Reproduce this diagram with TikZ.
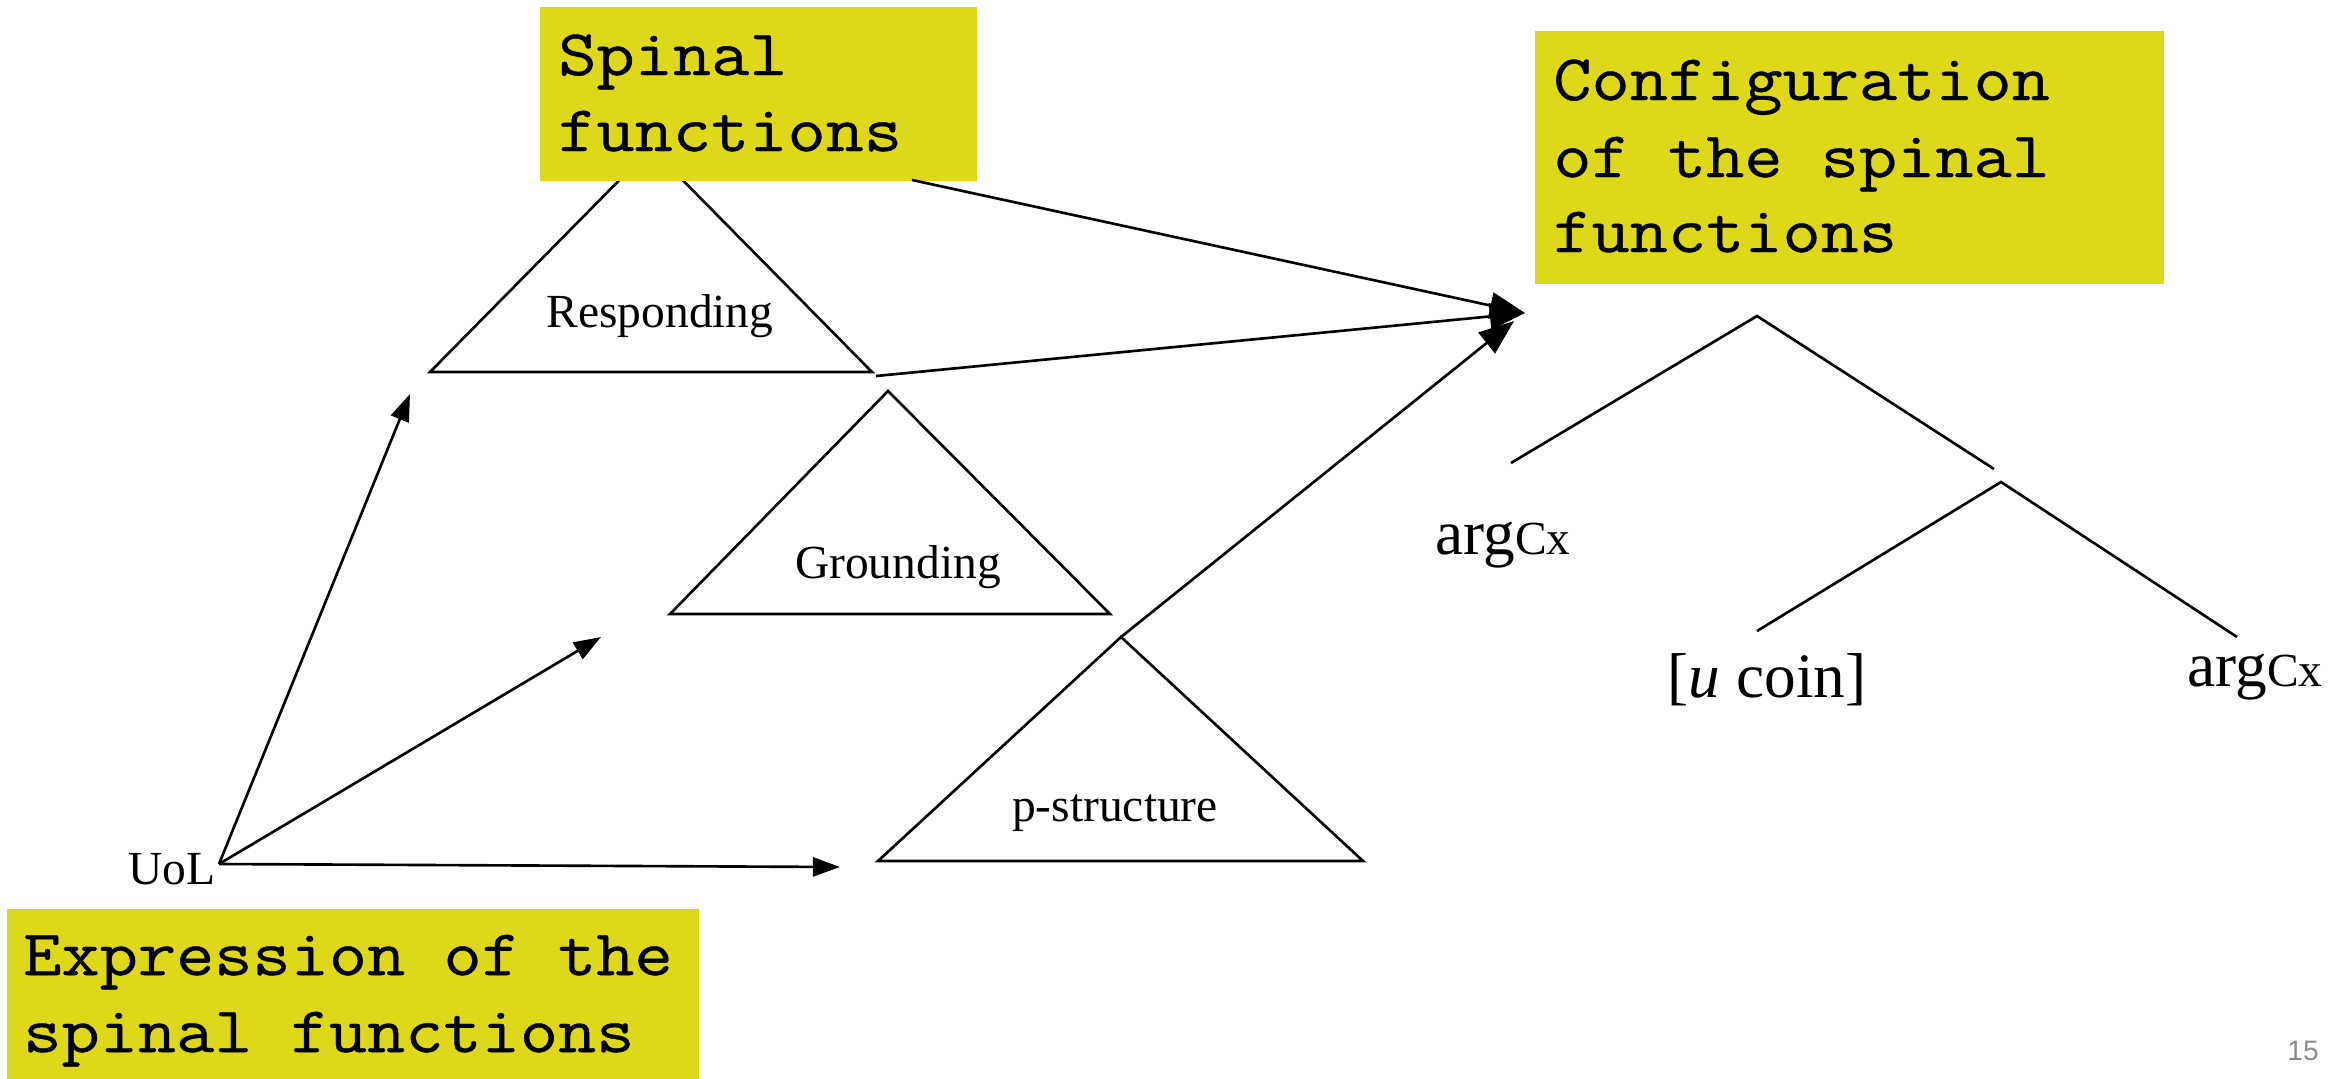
\documentclass[tikz,border=0pt]{standalone}
\usepackage{fontspec}
\setmainfont{Liberation Serif}
\setmonofont[FakeStretch=1.14,FakeBold=0.7]{Latin Modern Mono}
\newfontfamily\pgnumfont{Liberation Sans}
\usetikzlibrary{arrows.meta}
\definecolor{hl}{RGB}{221,217,26}
\definecolor{pgray}{RGB}{140,140,140}
\begin{document}
\begin{tikzpicture}[x=0.01cm,y=-0.01cm, line width=0.75pt,
  arr/.style={-{Triangle[length=7.7pt,width=5.4pt]}},
  hubarr/.style={-{Triangle[length=10pt,width=7.5pt]}},
  ybox/.style={fill=hl, draw=none, inner sep=0, anchor=north west},
  mono/.style={font=\ttfamily\fontsize{18.5}{21.6}\selectfont, inner sep=0, anchor=base west},
  lab/.style={font=\fontsize{13.5}{16}\selectfont, inner sep=0, anchor=base},
  big/.style={font=\fontsize{18}{21}\selectfont, inner sep=0, anchor=base west}]

\useasboundingbox (0,0) rectangle (2349,1078);

% triangles
\coordinate (rA) at (651,148);
\coordinate (rL) at (430,372);
\coordinate (rR) at (872,372);
\draw (rA) -- (rL) -- (rR) -- cycle;

\coordinate (gA) at (888,391);
\coordinate (gL) at (670,614);
\coordinate (gR) at (1110,614);
\draw (gA) -- (gL) -- (gR) -- cycle;

\coordinate (pA) at (1121,637);
\coordinate (pL) at (878,861);
\coordinate (pR) at (1363,861);
\draw (pA) -- (pL) -- (pR) -- cycle;

\node[lab] (resp) at (660,327) {Responding};
\node[lab] (grnd) at (898,578) {Grounding};
\node[lab] (pstr) at (1115,821) {p-structure};

% yellow boxes
\node[ybox, minimum width=4.36cm, minimum height=1.74cm] (spbox) at (539,6) {};
\node[ybox, minimum width=6.28cm, minimum height=2.53cm] (cfbox) at (1534,30) {};
\node[ybox, minimum width=6.91cm, minimum height=1.72cm] (exbox) at (6,908) {};

\node[mono] (sp1) at (557,75) {Spinal};
\node[mono] (sp2) at (557,151) {functions};
\node[mono] (cf1) at (1552,100) {Configuration};
\node[mono] (cf2) at (1552,177) {of the spinal};
\node[mono] (cf3) at (1552,252) {functions};
\node[mono] (ex1) at (22,975) {Expression of the};
\node[mono] (ex2) at (22,1052) {spinal functions};

% UoL and arrows
\node[lab, anchor=base west] (uol) at (127,884) {UoL};
\coordinate (uo) at (219,864);
\coordinate (t1) at (410,394);
\coordinate (t2) at (601,637);
\coordinate (t3) at (840,867);
\draw[arr] (uo) -- (t1);
\draw[arr] (uo) -- (t2);
\draw[arr] (uo) -- (t3);

% converging arrows
\coordinate (hub) at (1525,313);
\coordinate (spOut) at (912,180);
\coordinate (rOut) at (876,376);
\coordinate (pHub) at (1514,321);
\draw[hubarr] (spOut) -- (hub);
\draw[hubarr] (rOut) -- (hub);
\draw[hubarr] (pA) -- (pHub);

% tree
\coordinate (root) at (1757,316);
\coordinate (lEnd) at (1511,463);
\coordinate (rEnd) at (1994,469);
\coordinate (sub) at (2001,482);
\coordinate (slEnd) at (1757,631);
\coordinate (srEnd) at (2237,637);
\draw (lEnd) -- (root) -- (rEnd);
\draw (slEnd) -- (sub) -- (srEnd);

\node[big] (arg1) at (1434,554) {arg\fontsize{13.5}{16}\selectfont Cx};
\node[big, anchor=base] (coin) at (1767,697) {[\textit{u} coin]};
\node[big] (arg2) at (2186,686) {arg\fontsize{13.5}{16}\selectfont Cx};

\node[font=\pgnumfont\fontsize{8}{9}\selectfont, text=pgray, anchor=base east, inner sep=0] (pg) at (2320,1060) {15};
\end{tikzpicture}
\end{document}
